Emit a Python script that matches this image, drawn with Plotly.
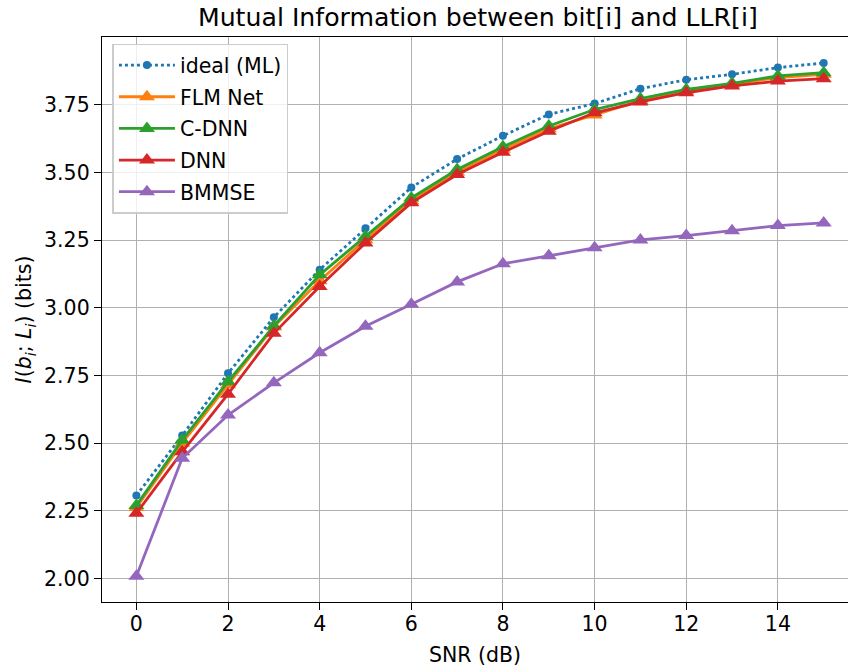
import plotly.graph_objects as go

snr = list(range(16))
ideal_ml = [2.307, 2.528, 2.758, 2.965, 3.141, 3.294, 3.445, 3.550, 3.636, 3.715, 3.755, 3.810, 3.843, 3.863, 3.888, 3.905]
flm_net = [2.262, 2.500, 2.716, 2.930, 3.100, 3.252, 3.396, 3.502, 3.586, 3.662, 3.713, 3.766, 3.801, 3.826, 3.851, 3.863]
c_dnn = [2.270, 2.511, 2.727, 2.933, 3.122, 3.264, 3.406, 3.511, 3.595, 3.672, 3.733, 3.773, 3.807, 3.830, 3.857, 3.869]
dnn = [2.241, 2.468, 2.681, 2.906, 3.079, 3.240, 3.388, 3.493, 3.575, 3.653, 3.721, 3.761, 3.795, 3.820, 3.838, 3.847]
bmmse = [2.008, 2.444, 2.604, 2.723, 2.834, 2.932, 3.013, 3.096, 3.163, 3.193, 3.222, 3.251, 3.267, 3.285, 3.304, 3.314]

x_ticks = [0, 2, 4, 6, 8, 10, 12, 14]
y_ticks = [2.00, 2.25, 2.50, 2.75, 3.00, 3.25, 3.50, 3.75]

font = "DejaVu Sans"
fs = 20.5
fig = go.Figure()

fig.add_trace(go.Scatter(
    x=snr, y=ideal_ml, name="ideal (ML)", mode="lines+markers",
    line=dict(color="#1f77b4", width=2.8, dash="dot"),
    marker=dict(symbol="circle", size=8, color="#1f77b4"),
    legendgroup="a"))
series = [("FLM Net", flm_net, "#ff7f0e"), ("C-DNN", c_dnn, "#2ca02c"),
          ("DNN", dnn, "#d62728"), ("BMMSE", bmmse, "#9467bd")]
for i, (name, vals, col) in enumerate(series):
    fig.add_trace(go.Scatter(
        x=snr, y=vals, name=name, mode="lines+markers",
        line=dict(color=col, width=2.8),
        marker=dict(symbol="triangle-up", size=14, color=col),
        legendgroup=name))

fig.update_layout(
    width=848, height=667,
    margin=dict(l=102, r=0, t=37, b=65),
    paper_bgcolor="white", plot_bgcolor="white",
    font=dict(family=font, size=fs, color="black"),
    title=dict(text="Mutual Information between bit[i] and LLR[i]",
               font=dict(size=25.2, family=font, color="black"),
               x=0.5635, xanchor="center", y=0.988, yanchor="top"),
    showlegend=True,
    legend=dict(x=0.014, y=0.988, xanchor="left", yanchor="top",
                bgcolor="rgba(255,255,255,0.8)", bordercolor="#cccccc", borderwidth=1.5,
                font=dict(size=fs, family=font), tracegroupgap=2,
                itemwidth=56),
)

fig.update_xaxes(
    range=[-0.75, 15.53], tickvals=x_ticks, ticktext=[str(t) for t in x_ticks],
    showgrid=True, gridcolor="#b0b0b0", gridwidth=1.4,
    showline=True, linecolor="black", linewidth=1.4, mirror=True,
    ticks="outside", ticklen=7, tickwidth=1.4, tickcolor="black",
    ticklabelstandoff=-4,
    zeroline=False,
    title=dict(text="SNR (dB)", font=dict(size=fs, family=font), standoff=12),
)
fig.update_yaxes(
    range=[1.913, 4.001], tickvals=y_ticks, ticktext=["%.2f" % v for v in y_ticks],
    showgrid=True, gridcolor="#b0b0b0", gridwidth=1.4,
    showline=True, linecolor="black", linewidth=1.4, mirror=False,
    ticks="outside", ticklen=7, tickwidth=1.4, tickcolor="black",
    zeroline=False,
    title=dict(text="<i>I</i>(<i>b</i><sub><i>i</i></sub>; <i>L</i><sub><i>i</i></sub>) (bits)",
               font=dict(size=fs, family=font), standoff=6),
)

fig.write_html("out.html")
